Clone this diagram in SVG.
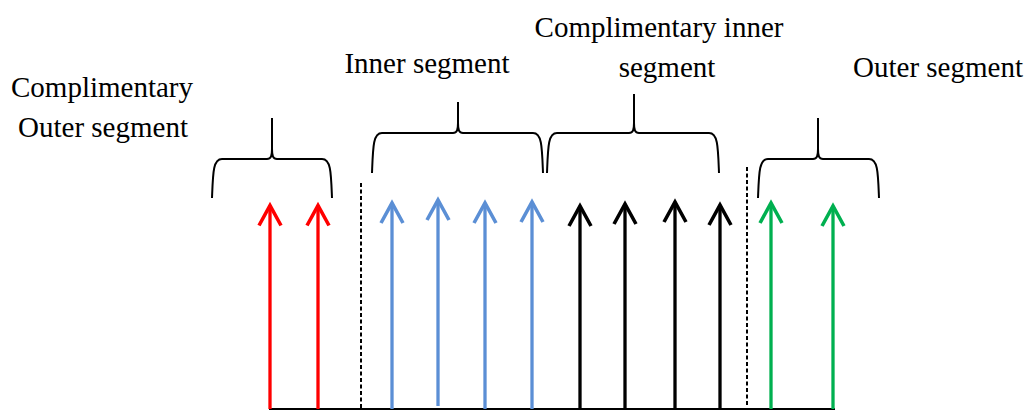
<svg xmlns="http://www.w3.org/2000/svg" width="1028" height="410" viewBox="0 0 1028 410">
<style>
  text { font-family: "Liberation Serif", "Times New Roman", serif; font-size: 29px; fill: #000; text-anchor: middle; }
  .brace { fill: none; stroke: #000; stroke-width: 2; stroke-linejoin: round; }
  .shaft { fill: none; stroke-width: 3.3; }
  .head { fill: none; stroke-width: 3.6; stroke-linejoin: miter; stroke-linecap: butt; }
  .red { stroke: #FF0000; }
  .blue { stroke: #5B8FD5; }
  .black { stroke: #000000; }
  .green { stroke: #00B050; }
  .dash { stroke: #000; stroke-width: 2; stroke-dasharray: 4 2.5; fill: none; }
  .base { stroke: #000; stroke-width: 2; fill: none; }
</style>
<defs>
  <marker id="ah-red" markerUnits="userSpaceOnUse" markerWidth="30" markerHeight="30" viewBox="-25 -15 30 30" refX="0" refY="0" orient="auto" overflow="visible">
    <path class="head red" d="M -20 -11 L 0 0 L -20 11"/>
  </marker>
  <marker id="ah-blue" markerUnits="userSpaceOnUse" markerWidth="30" markerHeight="30" viewBox="-25 -15 30 30" refX="0" refY="0" orient="auto" overflow="visible">
    <path class="head blue" d="M -20 -11 L 0 0 L -20 11"/>
  </marker>
  <marker id="ah-black" markerUnits="userSpaceOnUse" markerWidth="30" markerHeight="30" viewBox="-25 -15 30 30" refX="0" refY="0" orient="auto" overflow="visible">
    <path class="head black" d="M -20 -11 L 0 0 L -20 11"/>
  </marker>
  <marker id="ah-green" markerUnits="userSpaceOnUse" markerWidth="30" markerHeight="30" viewBox="-25 -15 30 30" refX="0" refY="0" orient="auto" overflow="visible">
    <path class="head green" d="M -20 -11 L 0 0 L -20 11"/>
  </marker>
</defs>

<g id="labels">
  <g id="label-comp-outer">
    <text x="102" y="97">Complimentary</text>
    <text x="103" y="137">Outer segment</text>
  </g>
  <g id="label-inner"><text x="427" y="73">Inner segment</text></g>
  <g id="label-comp-inner">
    <text x="659" y="37">Complimentary inner</text>
    <text x="667" y="77">segment</text>
  </g>
  <g id="label-outer"><text x="938" y="77">Outer segment</text></g>
</g>

<g id="braces">
  <path id="brace-comp-outer" class="brace" d="M 212 198 C 213 173, 213 159, 222 159 L 267 159 C 271 159, 272 156, 272 149 L 272 118 M 272 149 C 272 156, 273 159, 277 159 L 322 159 C 331 159, 331 173, 332 198"/>
  <path id="brace-inner" class="brace" d="M 372 173 C 373 147, 373 133, 382 133 L 453 133 C 457 133, 458 130, 458 123 L 458 102 M 458 123 C 458 130, 459 133, 463 133 L 533 133 C 542 133, 542 147, 543 173"/>
  <path id="brace-comp-inner" class="brace" d="M 547 173 C 548 147, 548 133, 557 133 L 629 133 C 633 133, 634 130, 634 123 L 634 94 M 634 123 C 634 130, 635 133, 639 133 L 709 133 C 718 133, 718 147, 719 173"/>
  <path id="brace-outer" class="brace" d="M 758 198 C 759 173, 759 159, 768 159 L 813 159 C 817 159, 818 156, 818 149 L 818 118 M 818 149 C 818 156, 819 159, 823 159 L 869 159 C 878 159, 878 173, 879 198"/>
</g>

<g id="dividers">
  <line class="dash" x1="361" y1="183" x2="361" y2="409"/>
  <line class="dash" x1="747" y1="167" x2="747" y2="405"/>
</g>

<g id="connectors">
  <line class="base" x1="269" y1="409" x2="835" y2="409"/>
  <g id="red-arrows">
    <line class="shaft red" x1="270" y1="409" x2="270" y2="205.5" marker-end="url(#ah-red)"/>
    <line class="shaft red" x1="318" y1="409" x2="318" y2="205.5" marker-end="url(#ah-red)"/>
  </g>
  <g id="blue-arrows">
    <line class="shaft blue" x1="392" y1="409" x2="392" y2="203" marker-end="url(#ah-blue)"/>
    <line class="shaft blue" x1="438" y1="406" x2="438" y2="200" marker-end="url(#ah-blue)"/>
    <line class="shaft blue" x1="485" y1="409" x2="485" y2="203" marker-end="url(#ah-blue)"/>
    <line class="shaft blue" x1="532" y1="409" x2="532" y2="202" marker-end="url(#ah-blue)"/>
  </g>
  <g id="black-arrows">
    <line class="shaft black" x1="580" y1="409" x2="580" y2="206" marker-end="url(#ah-black)"/>
    <line class="shaft black" x1="625" y1="409" x2="625" y2="204" marker-end="url(#ah-black)"/>
    <line class="shaft black" x1="675" y1="409" x2="675" y2="202" marker-end="url(#ah-black)"/>
    <line class="shaft black" x1="720" y1="409" x2="720" y2="205" marker-end="url(#ah-black)"/>
  </g>
  <g id="green-arrows">
    <line class="shaft green" x1="771" y1="409" x2="771" y2="203" marker-end="url(#ah-green)"/>
    <line class="shaft green" x1="833" y1="409" x2="833" y2="206" marker-end="url(#ah-green)"/>
  </g>
</g>
</svg>
